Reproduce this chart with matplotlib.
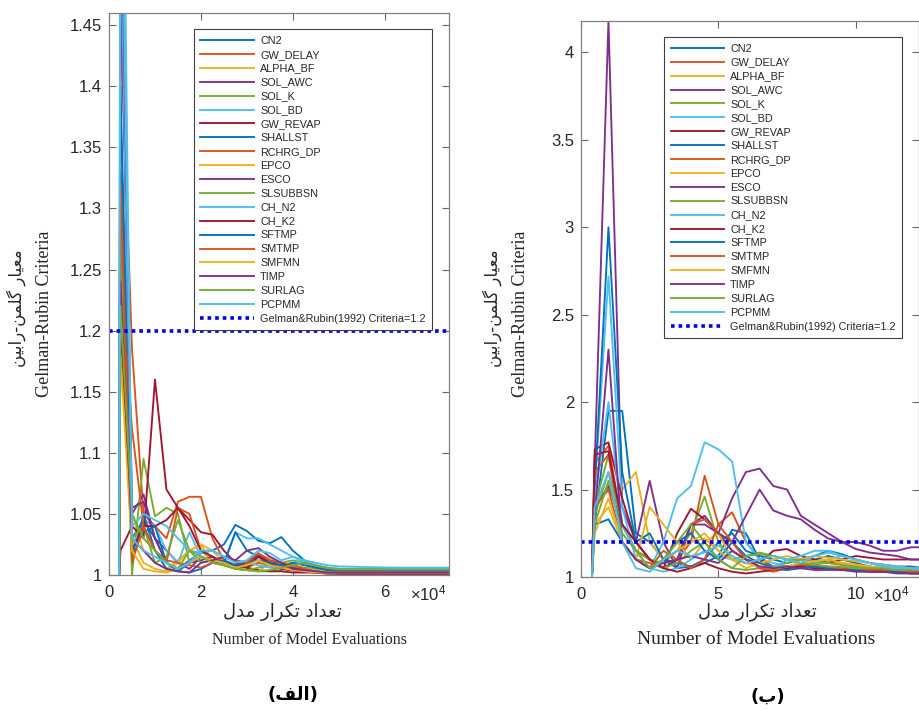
import matplotlib
matplotlib.use('Agg')
import matplotlib.pyplot as plt

# --- data -----------------------------------------------------------------
names = ['CN2', 'GW_DELAY', 'ALPHA_BF', 'SOL_AWC', 'SOL_K', 'SOL_BD', 'GW_REVAP',
         'SHALLST', 'RCHRG_DP', 'EPCO', 'ESCO', 'SLSUBBSN', 'CH_N2', 'CH_K2',
         'SFTMP', 'SMTMP', 'SMFMN', 'TIMP', 'SURLAG', 'PCPMM']

# panel (الف): number of model evaluations
left_x = [2200, 2500, 5000, 7500, 10000, 12500, 15000, 17500, 20000, 22500,
          25000, 27500, 30000, 32500, 35000, 37500, 40000, 42500, 45000,
          47500, 50000, 62500, 75000]

left_r = [
    [1.0, 1.372, 1.03, 1.045, 1.03, 1.01, 1.005, 1.012, 1.018, 1.02, 1.025, 1.041, 1.036, 1.028, 1.026, 1.031, 1.02, 1.012, 1.006, 1.004, 1.003, 1.003, 1.003],
    [1.0, 1.45, 1.185, 1.05, 1.04, 1.03, 1.06, 1.064, 1.064, 1.03, 1.012, 1.008, 1.006, 1.01, 1.008, 1.006, 1.004, 1.003, 1.002, 1.002, 1.002, 1.002, 1.002],
    [1.0, 1.30, 1.05, 1.02, 1.01, 1.005, 1.012, 1.02, 1.025, 1.02, 1.01, 1.008, 1.012, 1.016, 1.014, 1.01, 1.006, 1.004, 1.003, 1.002, 1.002, 1.002, 1.002],
    [1.0, 1.50, 1.05, 1.066, 1.03, 1.02, 1.01, 1.005, 1.015, 1.012, 1.008, 1.006, 1.01, 1.015, 1.008, 1.005, 1.004, 1.003, 1.002, 1.002, 1.002, 1.002, 1.002],
    [1.0, 1.35, 1.0, 1.095, 1.048, 1.055, 1.05, 1.01, 1.02, 1.012, 1.008, 1.005, 1.004, 1.003, 1.003, 1.004, 1.008, 1.006, 1.005, 1.004, 1.003, 1.003, 1.003],
    [1.0, 1.55, 1.02, 1.045, 1.04, 1.02, 1.01, 1.035, 1.015, 1.01, 1.008, 1.035, 1.03, 1.03, 1.025, 1.02, 1.015, 1.01, 1.006, 1.005, 1.004, 1.004, 1.004],
    [1.0, 1.02, 1.04, 1.03, 1.16, 1.07, 1.055, 1.045, 1.035, 1.033, 1.02, 1.01, 1.006, 1.004, 1.003, 1.003, 1.002, 1.002, 1.002, 1.001, 1.001, 1.001, 1.001],
    [1.0, 1.40, 1.01, 1.05, 1.02, 1.005, 1.003, 1.01, 1.015, 1.012, 1.01, 1.035, 1.02, 1.015, 1.01, 1.008, 1.005, 1.004, 1.003, 1.002, 1.002, 1.002, 1.002],
    [1.0, 1.25, 1.12, 1.04, 1.02, 1.01, 1.055, 1.05, 1.02, 1.015, 1.01, 1.005, 1.008, 1.016, 1.01, 1.008, 1.005, 1.004, 1.003, 1.003, 1.003, 1.002, 1.002],
    [1.0, 1.20, 1.03, 1.01, 1.005, 1.003, 1.01, 1.02, 1.025, 1.01, 1.008, 1.005, 1.004, 1.003, 1.01, 1.01, 1.008, 1.005, 1.004, 1.003, 1.003, 1.002, 1.002],
    [1.0, 1.60, 1.055, 1.06, 1.03, 1.01, 1.005, 1.01, 1.012, 1.015, 1.01, 1.008, 1.01, 1.016, 1.012, 1.008, 1.006, 1.004, 1.003, 1.002, 1.002, 1.002, 1.002],
    [1.0, 1.28, 1.03, 1.04, 1.01, 1.015, 1.045, 1.02, 1.01, 1.012, 1.008, 1.006, 1.004, 1.006, 1.008, 1.01, 1.012, 1.01, 1.008, 1.005, 1.004, 1.003, 1.003],
    [1.0, 1.65, 1.04, 1.05, 1.045, 1.04, 1.03, 1.02, 1.018, 1.02, 1.015, 1.012, 1.01, 1.008, 1.006, 1.005, 1.01, 1.012, 1.008, 1.006, 1.005, 1.005, 1.005],
    [1.0, 1.21, 1.02, 1.04, 1.04, 1.045, 1.055, 1.04, 1.02, 1.015, 1.01, 1.008, 1.006, 1.015, 1.01, 1.005, 1.004, 1.003, 1.002, 1.002, 1.001, 1.001, 1.001],
    [1.0, 1.33, 1.02, 1.035, 1.04, 1.01, 1.003, 1.002, 1.005, 1.01, 1.012, 1.008, 1.01, 1.012, 1.01, 1.008, 1.01, 1.008, 1.006, 1.004, 1.003, 1.003, 1.003],
    [1.0, 1.32, 1.01, 1.04, 1.02, 1.012, 1.01, 1.008, 1.006, 1.01, 1.015, 1.012, 1.01, 1.018, 1.012, 1.01, 1.008, 1.005, 1.003, 1.002, 1.002, 1.002, 1.002],
    [1.0, 1.18, 1.02, 1.005, 1.003, 1.002, 1.005, 1.01, 1.015, 1.012, 1.01, 1.006, 1.008, 1.012, 1.008, 1.006, 1.004, 1.003, 1.002, 1.002, 1.002, 1.002, 1.002],
    [1.0, 1.24, 1.03, 1.02, 1.01, 1.005, 1.003, 1.002, 1.01, 1.012, 1.015, 1.012, 1.02, 1.022, 1.015, 1.01, 1.005, 1.004, 1.003, 1.002, 1.002, 1.002, 1.002],
    [1.0, 1.22, 1.05, 1.03, 1.02, 1.01, 1.005, 1.02, 1.015, 1.01, 1.008, 1.005, 1.004, 1.003, 1.004, 1.006, 1.008, 1.01, 1.008, 1.006, 1.005, 1.005, 1.005],
    [1.0, 1.80, 1.03, 1.02, 1.015, 1.01, 1.005, 1.01, 1.02, 1.02, 1.015, 1.01, 1.012, 1.02, 1.018, 1.012, 1.015, 1.012, 1.01, 1.008, 1.007, 1.006, 1.006],
]

# panel (ب)
right_x = [4000, 5000, 10000, 15000, 20000, 25000, 30000, 35000, 40000, 45000,
           50000, 55000, 60000, 65000, 70000, 75000, 80000, 85000, 90000,
           95000, 100000, 105000, 110000, 115000, 120000, 125000]

right_r = [
    [1.0, 1.3, 1.95, 1.95, 1.25, 1.2, 1.1, 1.05, 1.06, 1.08, 1.12, 1.27, 1.25, 1.1, 1.06, 1.05, 1.08, 1.1, 1.12, 1.1, 1.08, 1.06, 1.05, 1.05, 1.04, 1.04],
    [1.0, 1.65, 1.75, 1.3, 1.15, 1.1, 1.05, 1.1, 1.2, 1.58, 1.3, 1.37, 1.2, 1.1, 1.05, 1.04, 1.06, 1.08, 1.1, 1.08, 1.06, 1.05, 1.04, 1.04, 1.03, 1.03],
    [1.0, 1.4, 1.5, 1.5, 1.6, 1.2, 1.1, 1.15, 1.2, 1.22, 1.15, 1.1, 1.08, 1.1, 1.12, 1.1, 1.08, 1.1, 1.09, 1.08, 1.07, 1.06, 1.05, 1.05, 1.04, 1.04],
    [1.0, 1.65, 4.18, 1.4, 1.2, 1.55, 1.2, 1.05, 1.3, 1.35, 1.25, 1.45, 1.6, 1.62, 1.52, 1.5, 1.35, 1.3, 1.25, 1.2, 1.2, 1.18, 1.15, 1.15, 1.17, 1.17],
    [1.0, 1.4, 1.7, 1.3, 1.2, 1.1, 1.08, 1.15, 1.25, 1.46, 1.2, 1.1, 1.12, 1.14, 1.12, 1.1, 1.1, 1.08, 1.08, 1.07, 1.06, 1.06, 1.05, 1.05, 1.05, 1.05],
    [1.0, 1.5, 2.72, 1.4, 1.1, 1.05, 1.2, 1.45, 1.52, 1.77, 1.73, 1.66, 1.2, 1.1, 1.08, 1.06, 1.05, 1.08, 1.1, 1.12, 1.1, 1.08, 1.06, 1.05, 1.05, 1.04],
    [1.0, 1.73, 1.77, 1.45, 1.2, 1.1, 1.05, 1.25, 1.39, 1.33, 1.25, 1.15, 1.1, 1.08, 1.15, 1.16, 1.12, 1.1, 1.08, 1.1, 1.12, 1.11, 1.1, 1.1, 1.1, 1.1],
    [1.0, 1.5, 3.0, 1.6, 1.2, 1.25, 1.1, 1.08, 1.06, 1.1, 1.2, 1.25, 1.15, 1.12, 1.1, 1.08, 1.1, 1.12, 1.15, 1.13, 1.1, 1.08, 1.07, 1.06, 1.06, 1.05],
    [1.0, 1.6, 1.7, 1.2, 1.1, 1.08, 1.05, 1.1, 1.3, 1.33, 1.25, 1.2, 1.1, 1.05, 1.03, 1.05, 1.07, 1.06, 1.05, 1.04, 1.04, 1.03, 1.03, 1.03, 1.02, 1.02],
    [1.0, 1.3, 1.4, 1.2, 1.1, 1.4, 1.3, 1.2, 1.1, 1.2, 1.25, 1.1, 1.05, 1.08, 1.1, 1.12, 1.1, 1.12, 1.11, 1.1, 1.09, 1.08, 1.07, 1.06, 1.05, 1.05],
    [1.0, 1.4, 1.52, 1.3, 1.15, 1.1, 1.05, 1.1, 1.3, 1.3, 1.25, 1.2, 1.35, 1.5, 1.38, 1.35, 1.33, 1.27, 1.22, 1.2, 1.16, 1.14, 1.13, 1.12, 1.1, 1.1],
    [1.0, 1.35, 1.6, 1.3, 1.15, 1.1, 1.05, 1.08, 1.15, 1.2, 1.1, 1.05, 1.04, 1.05, 1.06, 1.08, 1.1, 1.09, 1.08, 1.07, 1.06, 1.05, 1.05, 1.04, 1.04, 1.04],
    [1.0, 1.45, 2.0, 1.3, 1.15, 1.05, 1.03, 1.05, 1.1, 1.15, 1.12, 1.1, 1.08, 1.06, 1.05, 1.1, 1.12, 1.15, 1.15, 1.12, 1.1, 1.08, 1.07, 1.06, 1.05, 1.05],
    [1.0, 1.7, 1.72, 1.3, 1.2, 1.1, 1.05, 1.03, 1.05, 1.08, 1.05, 1.03, 1.02, 1.03, 1.04, 1.05, 1.06, 1.05, 1.05, 1.04, 1.04, 1.03, 1.03, 1.03, 1.02, 1.02],
    [1.0, 1.3, 1.33, 1.2, 1.1, 1.05, 1.1, 1.2, 1.25, 1.15, 1.1, 1.2, 1.12, 1.08, 1.05, 1.04, 1.05, 1.06, 1.05, 1.04, 1.04, 1.04, 1.03, 1.03, 1.03, 1.03],
    [1.0, 1.4, 1.5, 1.2, 1.1, 1.05, 1.15, 1.1, 1.05, 1.1, 1.3, 1.2, 1.1, 1.05, 1.04, 1.06, 1.08, 1.07, 1.06, 1.05, 1.05, 1.04, 1.04, 1.04, 1.03, 1.03],
    [1.0, 1.25, 1.45, 1.2, 1.1, 1.05, 1.1, 1.15, 1.2, 1.25, 1.15, 1.1, 1.08, 1.06, 1.05, 1.06, 1.08, 1.09, 1.1, 1.08, 1.07, 1.06, 1.05, 1.05, 1.04, 1.04],
    [1.0, 1.35, 2.3, 1.2, 1.1, 1.05, 1.08, 1.1, 1.12, 1.1, 1.08, 1.15, 1.1, 1.06, 1.05, 1.06, 1.05, 1.04, 1.04, 1.04, 1.03, 1.03, 1.03, 1.02, 1.02, 1.02],
    [1.0, 1.3, 1.55, 1.25, 1.15, 1.05, 1.1, 1.2, 1.3, 1.2, 1.1, 1.05, 1.12, 1.13, 1.12, 1.1, 1.08, 1.07, 1.06, 1.06, 1.05, 1.05, 1.05, 1.04, 1.04, 1.04],
    [1.0, 1.4, 1.6, 1.2, 1.05, 1.03, 1.1, 1.15, 1.12, 1.14, 1.18, 1.12, 1.08, 1.1, 1.12, 1.1, 1.08, 1.12, 1.14, 1.12, 1.1, 1.08, 1.06, 1.05, 1.05, 1.04],
]

criteria = 1.2
left_yticks = [1, 1.05, 1.1, 1.15, 1.2, 1.25, 1.3, 1.35, 1.4, 1.45]
right_yticks = [1, 1.5, 2, 2.5, 3, 3.5, 4]
left_xticks = [0, 20000, 40000, 60000]
right_xticks = [0, 50000, 100000]

colors = ['#0072BD', '#D95319', '#EDB120', '#7E2F8E', '#77AC30', '#4DBEEE', '#A2142F']

# --- minimal Persian shaping (matplotlib has no bidi / joining support) ----
FORMS = {
    'ا': ('\uFE8D', '\uFE8E', None, None),
    'ب': ('\uFE8F', '\uFE90', '\uFE91', '\uFE92'),
    'ت': ('\uFE95', '\uFE96', '\uFE97', '\uFE98'),
    'د': ('\uFEA9', '\uFEAA', None, None),
    'ر': ('\uFEAD', '\uFEAE', None, None),
    'ع': ('\uFEC9', '\uFECA', '\uFECB', '\uFECC'),
    'ف': ('\uFED1', '\uFED2', '\uFED3', '\uFED4'),
    'ک': ('\uFB8E', '\uFB8F', '\uFB90', '\uFB91'),
    'گ': ('\uFB92', '\uFB93', '\uFB94', '\uFB95'),
    'ل': ('\uFEDD', '\uFEDE', '\uFEDF', '\uFEE0'),
    'م': ('\uFEE1', '\uFEE2', '\uFEE3', '\uFEE4'),
    'ن': ('\uFEE5', '\uFEE6', '\uFEE7', '\uFEE8'),
    'ی': ('\uFBFC', '\uFBFD', '\uFBFE', '\uFBFF'),
}


def fa(text):
    out = []
    for i, ch in enumerate(text):
        if ch not in FORMS:
            out.append(ch)
            continue
        prev = text[i - 1] if i > 0 else ''
        nxt = text[i + 1] if i + 1 < len(text) else ''
        join_prev = prev in FORMS and FORMS[prev][2] is not None
        join_next = nxt in FORMS and FORMS[ch][2] is not None
        iso, fin, ini, med = FORMS[ch]
        if join_prev and join_next:
            out.append(med)
        elif join_prev:
            out.append(fin)
        elif join_next:
            out.append(ini)
        else:
            out.append(iso)
    s = ''.join(reversed(out))
    return s.translate(str.maketrans('()', ')('))


FA_FONT = ['DejaVu Sans']
SERIF = ['Liberation Serif', 'DejaVu Serif']
SANS = ['Liberation Sans', 'DejaVu Sans']

plt.rcParams['font.family'] = SANS
plt.rcParams['mathtext.fontset'] = 'custom'
plt.rcParams['mathtext.rm'] = 'Liberation Sans'
plt.rcParams['mathtext.it'] = 'Liberation Sans:italic'

fig = plt.figure(figsize=(9.2, 7.11), dpi=100)
ax1 = fig.add_axes([0.1185, 0.1913, 0.3696, 0.7904])
ax2 = fig.add_axes([0.6315, 0.1885, 0.3674, 0.7820])


def draw_panel(ax, x, runs, xmax, ymax, yticks, xticks, xticklabels, offset_x):
    for i, r in enumerate(runs):
        ax.plot(x, r, color=colors[i % 7], lw=1.35, label=names[i])
    ax.axhline(criteria, color='#0000ee', ls=(0, (1, 1.1)), lw=2.6,
               label='Gelman&Rubin(1992) Criteria=1.2')
    ax.set_xlim(0, xmax)
    ax.set_ylim(1, ymax)
    ax.set_yticks(yticks)
    ax.set_yticklabels(['%g' % v for v in yticks])
    ax.set_xticks(xticks)
    ax.set_xticklabels(xticklabels)
    ax.tick_params(direction='in', top=True, right=True, length=5, width=0.8,
                   color='0.4', labelcolor='0.15', labelsize=12)
    ax.tick_params(axis='x', pad=7)
    ax.tick_params(axis='y', pad=5)
    for s in ax.spines.values():
        s.set_color('0.5')
        s.set_linewidth(0.9)
    ax.text(offset_x, -0.032, r'$\times\mathregular{10^4}$', transform=ax.transAxes,
            ha='center', va='center', fontsize=12, color='0.15')
    leg = ax.legend(loc='upper right', bbox_to_anchor=(0.95, 0.971),
                    borderaxespad=0, fontsize=7.8, labelspacing=0.36,
                    handlelength=4.9, handletextpad=0.6, borderpad=0.6,
                    fancybox=False, framealpha=1)
    leg.get_frame().set_edgecolor('0.25')
    leg.get_frame().set_linewidth(0.8)
    for t in leg.get_texts():
        t.set_color('0.15')


draw_panel(ax1, left_x, left_r, 74000, 1.46, left_yticks, left_xticks,
           ['0', '2', '4', '6'], 0.938)
draw_panel(ax2, right_x, right_r, 123000, 4.18, right_yticks, right_xticks,
           ['0', '5', '10'], 0.917)

W, H = 920.0, 711.0

# y labels
fig.text(16 / W, 1 - 308 / H, fa('معیار گلمن-رابین'), rotation=90,
         ha='center', va='center', fontsize=12, family=FA_FONT, color='0.15')
fig.text(45 / W, 1 - 314 / H, 'Gelman-Rubin Criteria', rotation=90,
         ha='center', va='center', fontsize=13, family=SERIF, color='0.15')
fig.text(492 / W, 1 - 308 / H, fa('معیار گلمن-رابین'), rotation=90,
         ha='center', va='center', fontsize=12, family=FA_FONT, color='0.15')
fig.text(521 / W, 1 - 314 / H, 'Gelman-Rubin Criteria', rotation=90,
         ha='center', va='center', fontsize=13, family=SERIF, color='0.15')

# x labels
fig.text(282 / W, 1 - 612 / H, fa('تعداد تکرار مدل'), ha='center', va='center',
         fontsize=13, family=FA_FONT, color='0.15')
fig.text(310 / W, 1 - 640 / H, 'Number of Model Evaluations', ha='center',
         va='center', fontsize=11.5, family=SERIF, color='0.15')
fig.text(757 / W, 1 - 612 / H, fa('تعداد تکرار مدل'), ha='center', va='center',
         fontsize=13, family=FA_FONT, color='0.15')
fig.text(756 / W, 1 - 640 / H, 'Number of Model Evaluations', ha='center',
         va='center', fontsize=14, family=SERIF, color='0.15')

# panel captions
fig.text(293 / W, 1 - 695 / H, fa('(الف)'), ha='center', va='center',
         fontsize=13, fontweight='bold', family=FA_FONT, color='black')
fig.text(768 / W, 1 - 697 / H, fa('(ب)'), ha='center', va='center',
         fontsize=13, fontweight='bold', family=FA_FONT, color='black')

fig.savefig('out.png', dpi=100)
